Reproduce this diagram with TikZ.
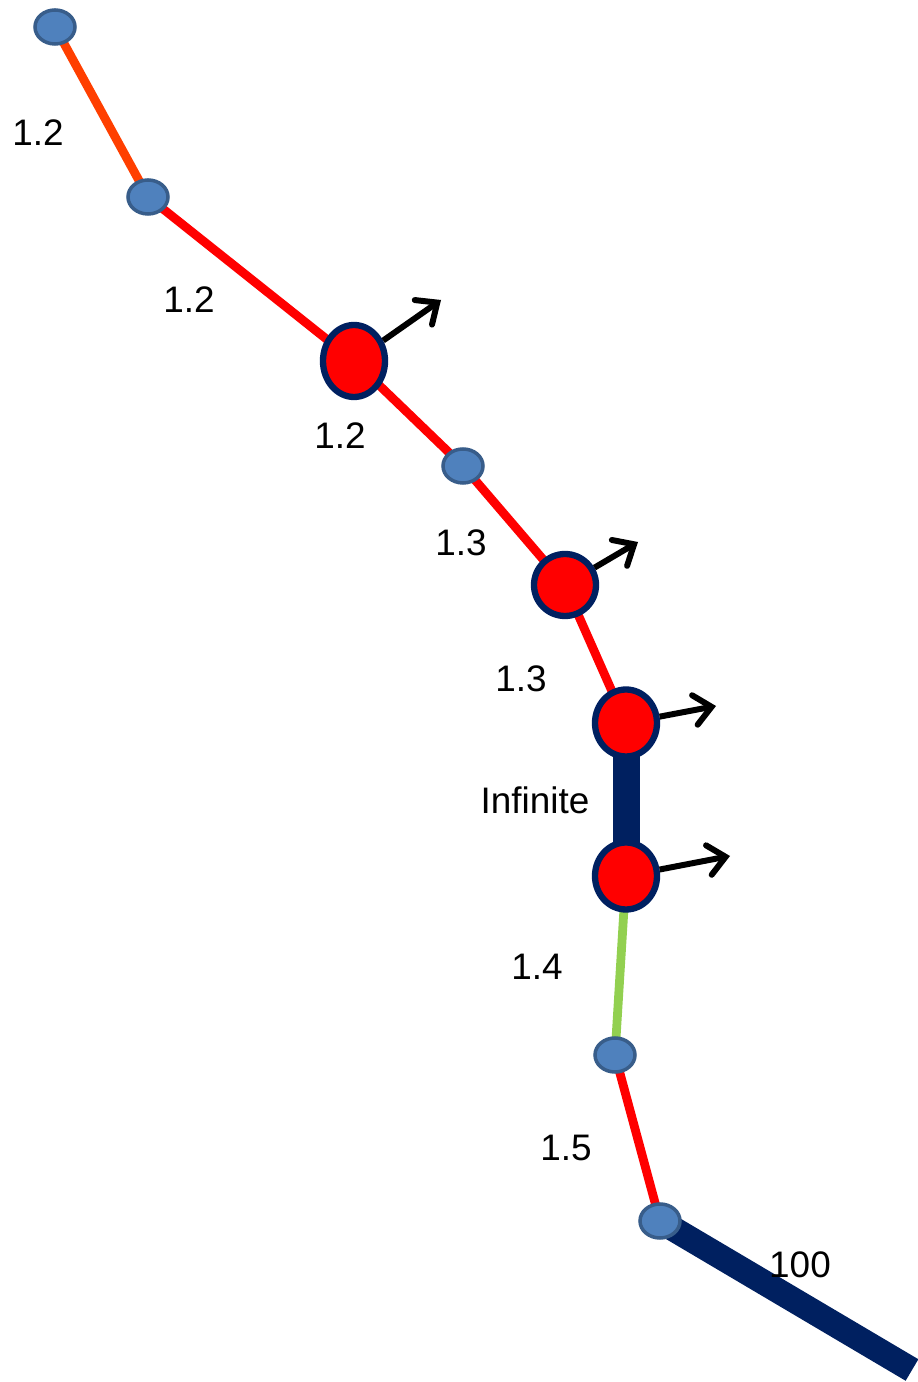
\documentclass[tikz,border=0pt]{standalone}
\usepackage{xcolor}
\usepackage{fontspec}
\setmainfont{Liberation Sans}
\usepackage{tikz}
\usetikzlibrary{arrows.meta,backgrounds,shapes.geometric}
\definecolor{CHBlue}{HTML}{4F81BD}
\definecolor{CHBlueLine}{HTML}{385D8A}
\definecolor{CHRed}{HTML}{FF0000}
\definecolor{CHOrange}{HTML}{FF3F00}
\definecolor{CHNavy}{HTML}{002060}
\definecolor{CHGreen}{HTML}{92D050}

\begin{document}
\begin{tikzpicture}[x=1cm,y=1cm,
  link/.style={CHRed,line width=5pt},
  rigid/.style={CHNavy,line width=0.54cm},
  hinge/.style={ellipse,draw=CHBlueLine,fill=CHBlue,line width=2pt,minimum width=0.8cm,minimum height=0.68cm,inner sep=0pt},
  joint/.style={ellipse,draw=CHNavy,fill=CHRed,line width=3.6pt,minimum width=1.24cm,minimum height=1.34cm,inner sep=0pt},
  force/.style={black,line width=3.4pt,-{Straight Barb[length=0.34cm,width=0.6cm,line cap=round]}},
  lbl/.style={font=\fontsize{21}{25}\selectfont}]
\path[use as bounding box] (0,0) rectangle (18.36,27.64);
\node[hinge] (b1) at (1.10,27.10) {};
\node[hinge] (b2) at (2.96,23.70) {};
\node[joint,minimum height=1.44cm] (r1) at (7.08,20.42) {};
\node[hinge] (b3) at (9.26,18.32) {};
\node[joint,minimum height=1.24cm] (r2) at (11.30,15.94) {};
\node[joint] (r3) at (12.52,13.18) {};
\node[joint] (r4) at (12.52,10.12) {};
\node[hinge] (b4) at (12.30,6.54) {};
\node[hinge] (b5) at (13.20,3.22) {};
\coordinate (tail) at (18.24,0.24);
\begin{pgfonlayer}{background}
\draw[link,CHOrange] (b1.center) -- (b2.center);
\draw[link] (b2.center) -- (r1.center);
\draw[link] (r1.center) -- (b3.center);
\draw[link] (b3.center) -- (r2.center);
\draw[link] (r2.center) -- (r3.center);
\draw[rigid] (r3.center) -- (r4.center);
\draw[link,CHGreen] (r4.center) -- (b4.center);
\draw[link] (b4.center) -- (b5.center);
\draw[rigid,line width=0.5cm] (b5.center) -- (tail);
\end{pgfonlayer}
% loads on the joints
\coordinate (f1) at (8.82,21.64);
\coordinate (f2) at (12.76,16.80);
\coordinate (f3) at (14.32,13.52);
\coordinate (f4) at (14.60,10.52);
\draw[force] (r1) -- (f1);
\draw[force] (r2) -- (f2);
\draw[force] (r3) -- (f3);
\draw[force] (r4) -- (f4);
% stiffness labels
\node[lbl] (l1) at (0.76,24.98) {1.2};
\node[lbl] (l2) at (3.78,21.64) {1.2};
\node[lbl] (l3) at (6.80,18.92) {1.2};
\node[lbl] (l4) at (9.22,16.78) {1.3};
\node[lbl] (l5) at (10.42,14.06) {1.3};
\node[lbl] (l6) at (10.70,11.64) {Infinite};
\node[lbl] (l7) at (10.74,8.30) {1.4};
\node[lbl] (l8) at (11.32,4.68) {1.5};
\node[lbl] (l9) at (16.00,2.34) {100};
\end{tikzpicture}
\end{document}
